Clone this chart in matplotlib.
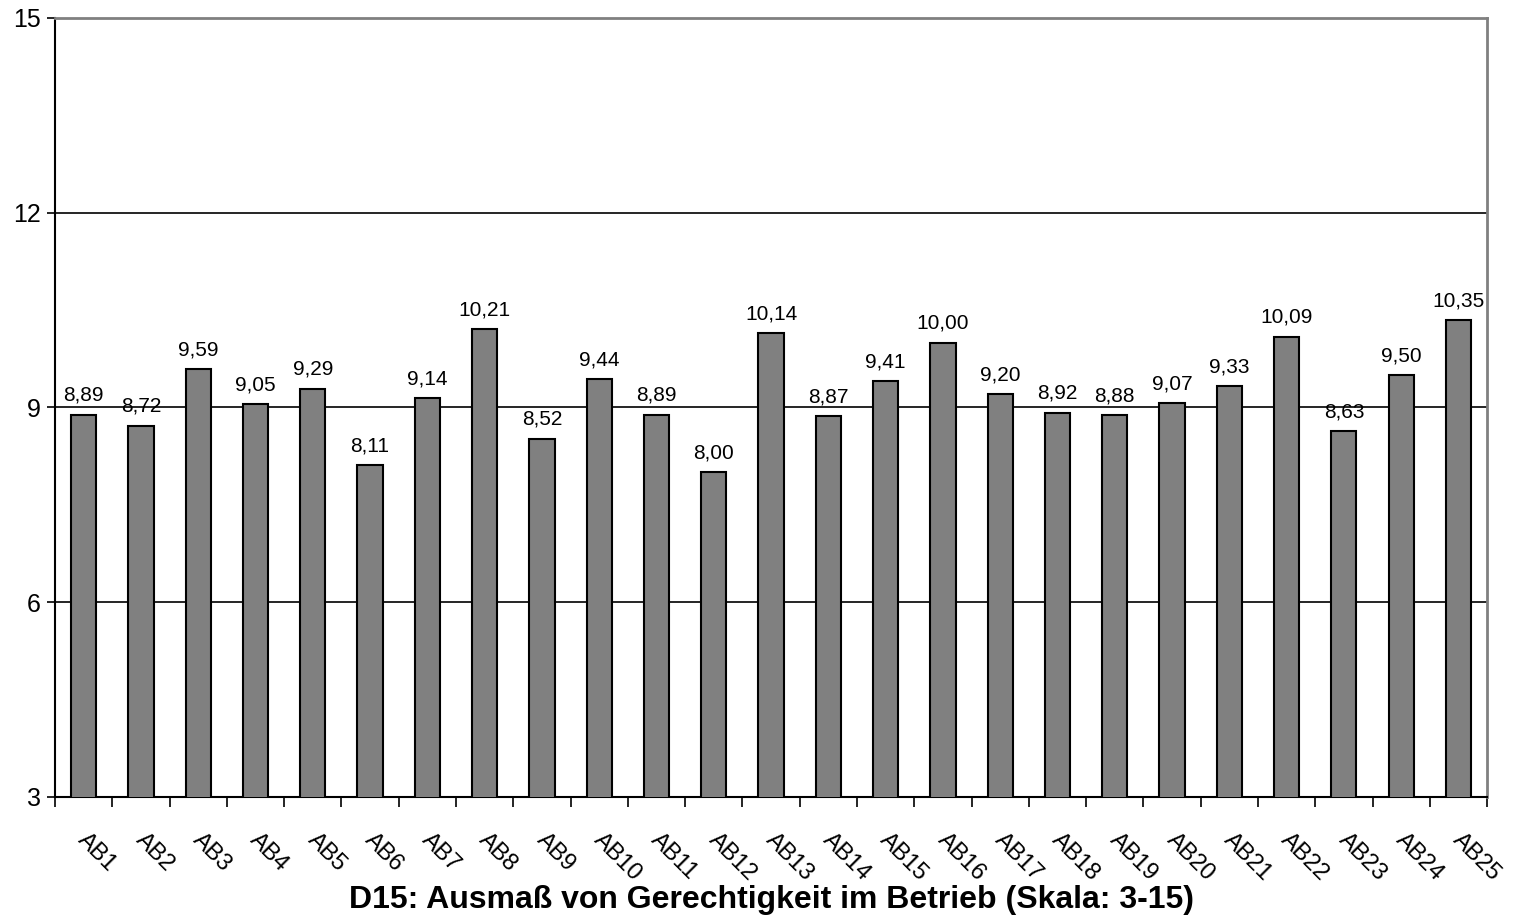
import matplotlib.pyplot as plt
import numpy as np

labels = ['AB%d' % i for i in range(1, 26)]
values = [8.89, 8.72, 9.59, 9.05, 9.29, 8.11, 9.14, 10.21, 8.52, 9.44,
          8.89, 8.00, 10.14, 8.87, 9.41, 10.00, 9.20, 8.92, 8.88, 9.07,
          9.33, 10.09, 8.63, 9.50, 10.35]
yticks = [3, 6, 9, 12, 15]
title = 'D15: Ausmaß von Gerechtigkeit im Betrieb (Skala: 3-15)'

plt.rcParams['font.family'] = ['Liberation Sans', 'DejaVu Sans']

fig = plt.figure(figsize=(15.19, 9.22), dpi=100)
ax = fig.add_axes([0.0362, 0.1356, 0.9428, 0.8449])

x = np.arange(len(values))
ax.bar(x, values, width=0.44, bottom=0, color='#808080',
       edgecolor='black', linewidth=1.5, zorder=3)

for xi, v in zip(x, values):
    ax.annotate(('%.2f' % v).replace('.', ','), (xi, v),
                xytext=(0, 7), textcoords='offset points',
                ha='center', va='bottom', fontsize=15, zorder=4)

ax.set_xlim(-0.5, len(values) - 0.5)
ax.set_ylim(3, 15)
ax.set_yticks(yticks)
ax.set_yticklabels([str(t) for t in yticks], fontsize=18)
for t in yticks[1:-1]:
    ax.axhline(t, color='black', linewidth=1.2, zorder=1)

ax.set_xticks(np.arange(len(values) + 1) - 0.5)
ax.set_xticklabels([])
ax.tick_params(axis='x', length=7, width=1.2, direction='out')
ax.tick_params(axis='y', length=6, width=1.2, direction='out', pad=4)

for xi, lab in zip(x, labels):
    ax.text(xi + 0.1, 2.5, lab, rotation=-45, rotation_mode='anchor',
            ha='left', va='top', fontsize=17)

ax.spines['left'].set_color('black')
ax.spines['bottom'].set_color('black')
ax.spines['left'].set_linewidth(1.5)
ax.spines['bottom'].set_linewidth(1.5)
ax.spines['top'].set_color('#808080')
ax.spines['right'].set_color('#808080')
ax.spines['top'].set_linewidth(2)
ax.spines['right'].set_linewidth(2)

fig.text(0.508, 0.008, title, ha='center', va='bottom',
         fontsize=23, fontweight='bold')

fig.savefig('out.png', dpi=100)
